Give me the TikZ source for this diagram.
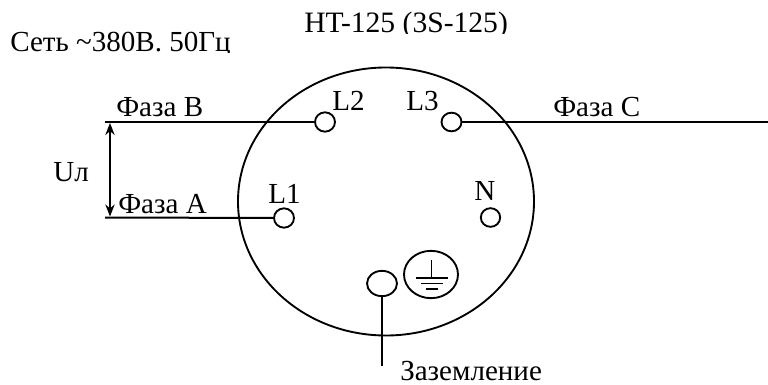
\documentclass[tikz,border=0pt]{standalone}
\usepackage{fontspec}
\setmainfont{Liberation Serif}
\usetikzlibrary{arrows.meta,shapes.geometric}
\tikzset{
  x=0.75pt,y=-0.75pt,
  wire/.style={line width=1.5pt,black},
  thinring/.style={draw=black,line width=1.4pt,ellipse,inner sep=0pt,minimum width=#1},
  lbl/.style={anchor=base west,inner sep=0pt,font=\fontsize{21.8}{24}\selectfont},
}
\begin{document}
\begin{tikzpicture}
\useasboundingbox (0,0) rectangle (768,385);
\draw[line width=1.4pt] (386,201.5) ellipse [x radius=148*0.75pt,y radius=134*0.75pt];
\node[thinring=15pt,minimum height=14.5pt] (L2) at (325,122) {};
\node[thinring=15pt,minimum height=14pt] (L3) at (451.5,122) {};
\node[thinring=15pt,minimum height=14.5pt] (L1) at (284,218) {};
\node[thinring=14.5pt,minimum height=14pt] (N) at (490.5,217.5) {};
\node[thinring=22.5pt,minimum height=19pt] (G) at (382,283.5) {};
\node[thinring=40.5pt,minimum height=35.5pt] (PE) at (431,274.5) {};
\coordinate (bS) at (105,122); \coordinate (aS) at (105,217.5);
\coordinate (cE) at (768,122); \coordinate (gE) at (382,366);
\coordinate (u1) at (110,123); \coordinate (u2) at (110,216.5);
\coordinate (e0) at (431.5,260); \coordinate (e1) at (431.5,278);
\draw[wire] (bS) -- (L2.west);
\draw[wire] (aS) -- (L1.west);
\draw[wire] (L3.east) -- (cE);
\draw[wire] (G.south) -- (gE);
\draw[line width=1.5pt,{Stealth[length=9pt,width=7pt]}-{Stealth[length=9pt,width=7pt]}] (u1) -- (u2);
\draw[line width=1.2pt] (e0) -- (e1);
\draw[line width=1.2pt] (416,278) -- (448,278);
\draw[line width=1.2pt] (421,283.5) -- (443,283.5);
\draw[line width=1.2pt] (426,289) -- (438,289);
\begin{scope}
\clip (0,0) rectangle (768,34);
\node[lbl,font=\fontsize{22.2}{24}\selectfont] (t1) at (304,33) {HT-125 (3S-125)};
\end{scope}
\begin{scope}
\clip (0,0) rectangle (768,52.5);
\node[lbl] (t2) at (10,51.5) {Сеть \textasciitilde380В. 50Гц};
\end{scope}
\node[lbl] at (116,117) {Фаза В};
\node[lbl] at (118,213) {Фаза А};
\node[lbl] at (553,117) {Фаза С};
\node[lbl] at (53,181) {Uл};
\node[lbl] at (332,111) {L2};
\node[lbl] at (406,111) {L3};
\node[lbl] at (268,203) {L1};
\node[lbl] at (474,200) {N};
\node[lbl] at (400,380) {Заземление};
\end{tikzpicture}
\end{document}
